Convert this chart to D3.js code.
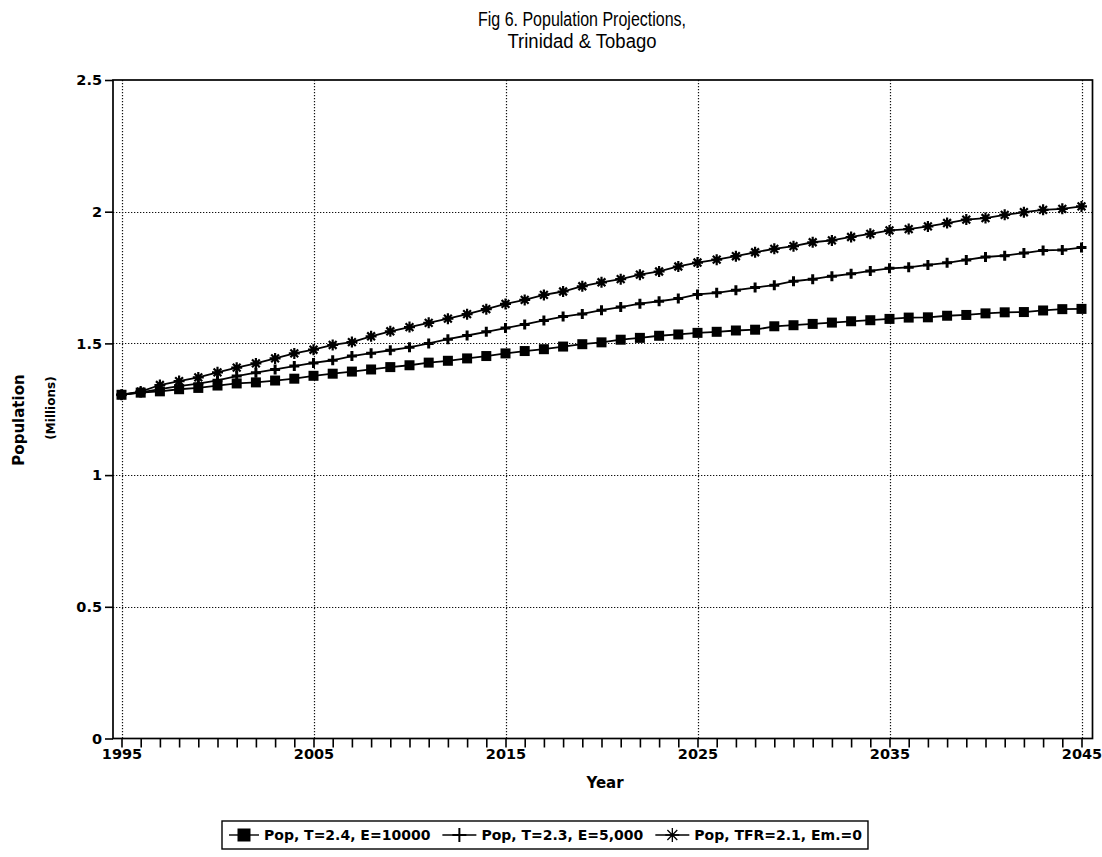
<!DOCTYPE html>
<html>
<head>
<meta charset="utf-8">
<script src="https://cdn.jsdelivr.net/npm/d3@7/dist/d3.min.js"></script>
<style>
  html, body { margin: 0; padding: 0; background: #ffffff; }
  svg { display: block; }
  .axis-text { font-family: "DejaVu Sans", sans-serif; font-weight: bold; font-size: 14px; fill: #000; }
  .title { font-family: "Liberation Sans Narrow", "Liberation Sans", sans-serif; font-size: 20px; fill: #000; }
</style>
</head>
<body>
<div id="chart"></div>
<script>
const years = [
  1995, 1996, 1997, 1998, 1999, 2000, 2001, 2002, 2003, 2004,
  2005, 2006, 2007, 2008, 2009, 2010, 2011, 2012, 2013, 2014,
  2015, 2016, 2017, 2018, 2019, 2020, 2021, 2022, 2023, 2024,
  2025, 2026, 2027, 2028, 2029, 2030, 2031, 2032, 2033, 2034,
  2035, 2036, 2037, 2038, 2039, 2040, 2041, 2042, 2043, 2044, 2045
];

// Pop, T=2.4, E=10000 (millions)
const popT24 = [
  1.305, 1.313, 1.318, 1.326, 1.331, 1.340, 1.348, 1.352, 1.359, 1.366,
  1.377, 1.385, 1.393, 1.401, 1.410, 1.417, 1.427, 1.434, 1.443, 1.452,
  1.462, 1.471, 1.478, 1.488, 1.497, 1.504, 1.514, 1.521, 1.529, 1.534,
  1.540, 1.544, 1.549, 1.552, 1.565, 1.569, 1.574, 1.579, 1.584, 1.588,
  1.593, 1.598, 1.599, 1.605, 1.608, 1.614, 1.618, 1.619, 1.625, 1.630, 1.631
];

// Pop, T=2.3, E=5,000
const popT23 = [
  1.305, 1.314, 1.326, 1.338, 1.347, 1.360, 1.376, 1.389, 1.401, 1.414,
  1.426, 1.436, 1.452, 1.463, 1.474, 1.485, 1.500, 1.516, 1.530, 1.544,
  1.558, 1.572, 1.587, 1.602, 1.612, 1.626, 1.638, 1.651, 1.660, 1.670,
  1.686, 1.692, 1.702, 1.712, 1.721, 1.736, 1.744, 1.755, 1.764, 1.775,
  1.785, 1.789, 1.798, 1.806, 1.817, 1.828, 1.833, 1.843, 1.853, 1.855, 1.864
];

// Pop, TFR=2.1, Em.=0
const popTFR21 = [
  1.305, 1.317, 1.342, 1.357, 1.371, 1.390, 1.408, 1.424, 1.443, 1.462,
  1.476, 1.494, 1.505, 1.527, 1.546, 1.562, 1.578, 1.594, 1.611, 1.630,
  1.650, 1.665, 1.684, 1.697, 1.717, 1.732, 1.744, 1.761, 1.773, 1.792,
  1.807, 1.818, 1.831, 1.846, 1.859, 1.869, 1.884, 1.891, 1.904, 1.916,
  1.929, 1.934, 1.944, 1.957, 1.970, 1.976, 1.988, 1.998, 2.007, 2.011, 2.020
];

const seriesNames = ['Pop, T=2.4, E=10000', 'Pop, T=2.3, E=5,000', 'Pop, TFR=2.1, Em.=0'];
const seriesValues = [popT24, popT23, popTFR21];
const markerTypes = ['square', 'plus', 'asterisk'];

const yTicks = [0, 0.5, 1, 1.5, 2, 2.5];
const yGrid = [0.5, 1, 1.5, 2];
const xLabelYears = [1995, 2005, 2015, 2025, 2035, 2045];

const titleLines = ['Fig 6. Population Projections,', 'Trinidad & Tobago'];

const W = 1102, H = 857;
const frame = { left: 113, right: 1092.5, top: 80, bottom: 738.5 };

const x = d3.scaleLinear().domain([1995, 2045]).range([121.5, 1081.5]);
const y = d3.scaleLinear().domain([0, 2.5]).range([738.5, 80]);

// marker shapes; s is the nominal size
function drawMarker(sel, type, s, legend) {
  if (type === 'square') {
    sel.append('rect')
      .attr('x', -s / 2).attr('y', -s / 2)
      .attr('width', s).attr('height', s)
      .attr('fill', '#000');
  } else if (type === 'plus') {
    const r = s / 2;
    sel.append('path')
      .attr('d', `M${-r},0H${r}M0,${-r}V${r}`)
      .attr('stroke', '#000')
      .attr('stroke-width', legend ? 2 : 3)
      .attr('fill', 'none');
  } else {
    const r = s / 2;
    const d = r * Math.SQRT1_2;
    sel.append('path')
      .attr('d', `M${-r},0H${r}M0,${-r}V${r}M${-d},${-d}L${d},${d}M${-d},${d}L${d},${-d}`)
      .attr('stroke', '#000')
      .attr('stroke-width', legend ? 1.3 : 2.2)
      .attr('fill', 'none');
  }
}

const svg = d3.select('#chart').append('svg')
  .attr('width', W).attr('height', H)
  .attr('viewBox', `0 0 ${W} ${H}`);

// title
svg.append('text').attr('class', 'title')
  .attr('x', 582).attr('y', 26).attr('text-anchor', 'middle')
  .attr('textLength', 208).attr('lengthAdjust', 'spacingAndGlyphs')
  .text(titleLines[0]);
svg.append('text').attr('class', 'title')
  .attr('x', 582).attr('y', 48).attr('text-anchor', 'middle')
  .attr('textLength', 149).attr('lengthAdjust', 'spacingAndGlyphs')
  .text(titleLines[1]);

// dotted grid
const grid = svg.append('g').attr('stroke', '#111').attr('stroke-width', 1.2).attr('stroke-dasharray', '1.3,1.7');
grid.selectAll('line.h').data(yGrid).join('line')
  .attr('class', 'h')
  .attr('x1', frame.left).attr('x2', frame.right)
  .attr('y1', (d) => Math.round(y(d)) + 0.5).attr('y2', (d) => Math.round(y(d)) + 0.5);
grid.selectAll('line.v').data(xLabelYears).join('line')
  .attr('class', 'v')
  .attr('x1', (d) => Math.round(x(d)) + 0.5).attr('x2', (d) => Math.round(x(d)) + 0.5)
  .attr('y1', frame.top).attr('y2', frame.bottom);

// axes
const yAxis = svg.append('g')
  .attr('transform', `translate(${frame.left},0)`)
  .call(d3.axisLeft(y).tickValues(yTicks).tickSize(8).tickPadding(3).tickFormat(d3.format('')));
const xAxis = svg.append('g')
  .attr('transform', `translate(0,${frame.bottom})`)
  .call(d3.axisBottom(x).tickValues(years).tickSize(9).tickPadding(1)
    .tickFormat((d) => (xLabelYears.includes(d) ? String(d) : '')));
[yAxis, xAxis].forEach((a) => {
  a.select('.domain').remove();
  a.selectAll('.tick line').attr('stroke', '#000').attr('stroke-width', 1.6);
  a.selectAll('.tick text').attr('fill', '#000')
    .style('font-family', '"DejaVu Sans", sans-serif').style('font-weight', 'bold').style('font-size', '14.5px');
});

// frame
svg.append('rect')
  .attr('x', frame.left).attr('y', frame.top)
  .attr('width', frame.right - frame.left).attr('height', frame.bottom - frame.top)
  .attr('fill', 'none').attr('stroke', '#000').attr('stroke-width', 1.7);

// axis titles
svg.append('text').attr('class', 'axis-text')
  .style('font-size', '15px')
  .attr('x', 605).attr('y', 788).attr('text-anchor', 'middle')
  .text('Year');
svg.append('text').attr('class', 'axis-text')
  .style('font-size', '15px')
  .attr('transform', 'translate(24,420) rotate(-90)').attr('text-anchor', 'middle')
  .text('Population');
svg.append('text').attr('class', 'axis-text')
  .style('font-size', '12px')
  .attr('transform', 'translate(55,408) rotate(-90)').attr('text-anchor', 'middle')
  .text('(Millions)');

// series
const line = d3.line().x((d) => x(d.year)).y((d) => y(d.value));
seriesValues.forEach((vals, i) => {
  const pts = years.map((yr, j) => ({ year: yr, value: vals[j] }));
  const g = svg.append('g').attr('class', 'series');
  g.append('path').datum(pts)
    .attr('d', line)
    .attr('fill', 'none').attr('stroke', '#000').attr('stroke-width', 1.8);
  g.selectAll('g.pt').data(pts).join('g')
    .attr('class', 'pt')
    .attr('transform', (d) => `translate(${x(d.year)},${y(d.value)})`)
    .each(function () {
      const s = markerTypes[i] === 'square' ? 10 : markerTypes[i] === 'plus' ? 10 : 11;
      drawMarker(d3.select(this), markerTypes[i], s, false);
    });
});

// legend
const legend = svg.append('g');
const legY = 835;
let cx = 229;
seriesNames.forEach((name, i) => {
  const symW = i === 0 ? 30 : 34;
  legend.append('line')
    .attr('x1', cx).attr('x2', cx + symW).attr('y1', legY).attr('y2', legY)
    .attr('stroke', '#000').attr('stroke-width', 1.4);
  const m = legend.append('g').attr('transform', `translate(${cx + symW / 2},${legY})`);
  drawMarker(m, markerTypes[i], i === 0 ? 13 : 14, true);
  cx += symW + 5;
  const t = legend.append('text').attr('class', 'axis-text')
    .attr('x', cx).attr('y', legY + 5)
    .text(name);
  cx += t.node().getComputedTextLength() + 12;
});
legend.insert('rect', ':first-child')
  .attr('x', 222).attr('y', 821)
  .attr('width', cx - 12 + 6 - 222).attr('height', 28)
  .attr('fill', '#fff').attr('stroke', '#000').attr('stroke-width', 1.4);
</script>
</body>
</html>
